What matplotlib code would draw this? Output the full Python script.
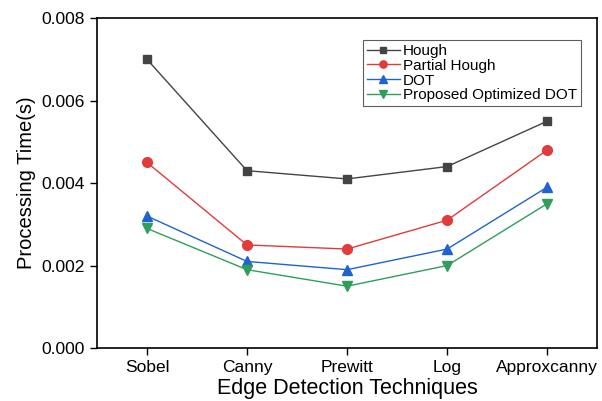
import matplotlib.pyplot as plt

plt.rcParams['font.family'] = ['Liberation Sans', 'DejaVu Sans']

techniques = ["Sobel", "Canny", "Prewitt", "Log", "Approxcanny"]
hough = [0.0070, 0.0043, 0.0041, 0.0044, 0.0055]
partial_hough = [0.0045, 0.0025, 0.0024, 0.0031, 0.0048]
dot = [0.0032, 0.0021, 0.0019, 0.0024, 0.0039]
proposed_dot = [0.0029, 0.0019, 0.0015, 0.0020, 0.0035]

fig = plt.figure(figsize=(6.02, 4.01), dpi=100)
ax = fig.add_axes([0.161, 0.132, 0.831, 0.823])

x = range(len(techniques))
ax.plot(x, hough, color="#444444", marker="s", markersize=6, linewidth=1, label="Hough")
ax.plot(x, partial_hough, color="#e23b3b", marker="o", markersize=7, linewidth=1, label="Partial Hough")
ax.plot(x, dot, color="#1f63d0", marker="^", markersize=7, linewidth=1, label="DOT")
ax.plot(x, proposed_dot, color="#2f9e5a", marker="v", markersize=7, linewidth=1, label="Proposed Optimized DOT")

ax.set_xlim(-0.5, 4.5)
ax.set_ylim(0, 0.008)
ax.set_xticks(list(x))
ax.set_xticklabels(techniques)
ax.set_yticks([0.0, 0.002, 0.004, 0.006, 0.008])
ax.set_yticklabels(["0.000", "0.002", "0.004", "0.006", "0.008"])
ax.tick_params(labelsize=12.5, direction="out", length=5, width=1)
for s in ax.spines.values():
    s.set_linewidth(1.2)

ax.set_xlabel("Edge Detection Techniques", fontsize=15.5, labelpad=2)
ax.set_ylabel("Processing Time(s)", fontsize=14.5)

leg = ax.legend(loc="upper right", bbox_to_anchor=(0.968, 0.933), borderaxespad=0,
                fontsize=11, frameon=True, fancybox=False, edgecolor="#333333",
                handlelength=2.2, handletextpad=0.2, labelspacing=0.05,
                borderpad=0.25, markerscale=0.75)
leg.get_frame().set_linewidth(0.8)

fig.savefig("out.png", dpi=100)
